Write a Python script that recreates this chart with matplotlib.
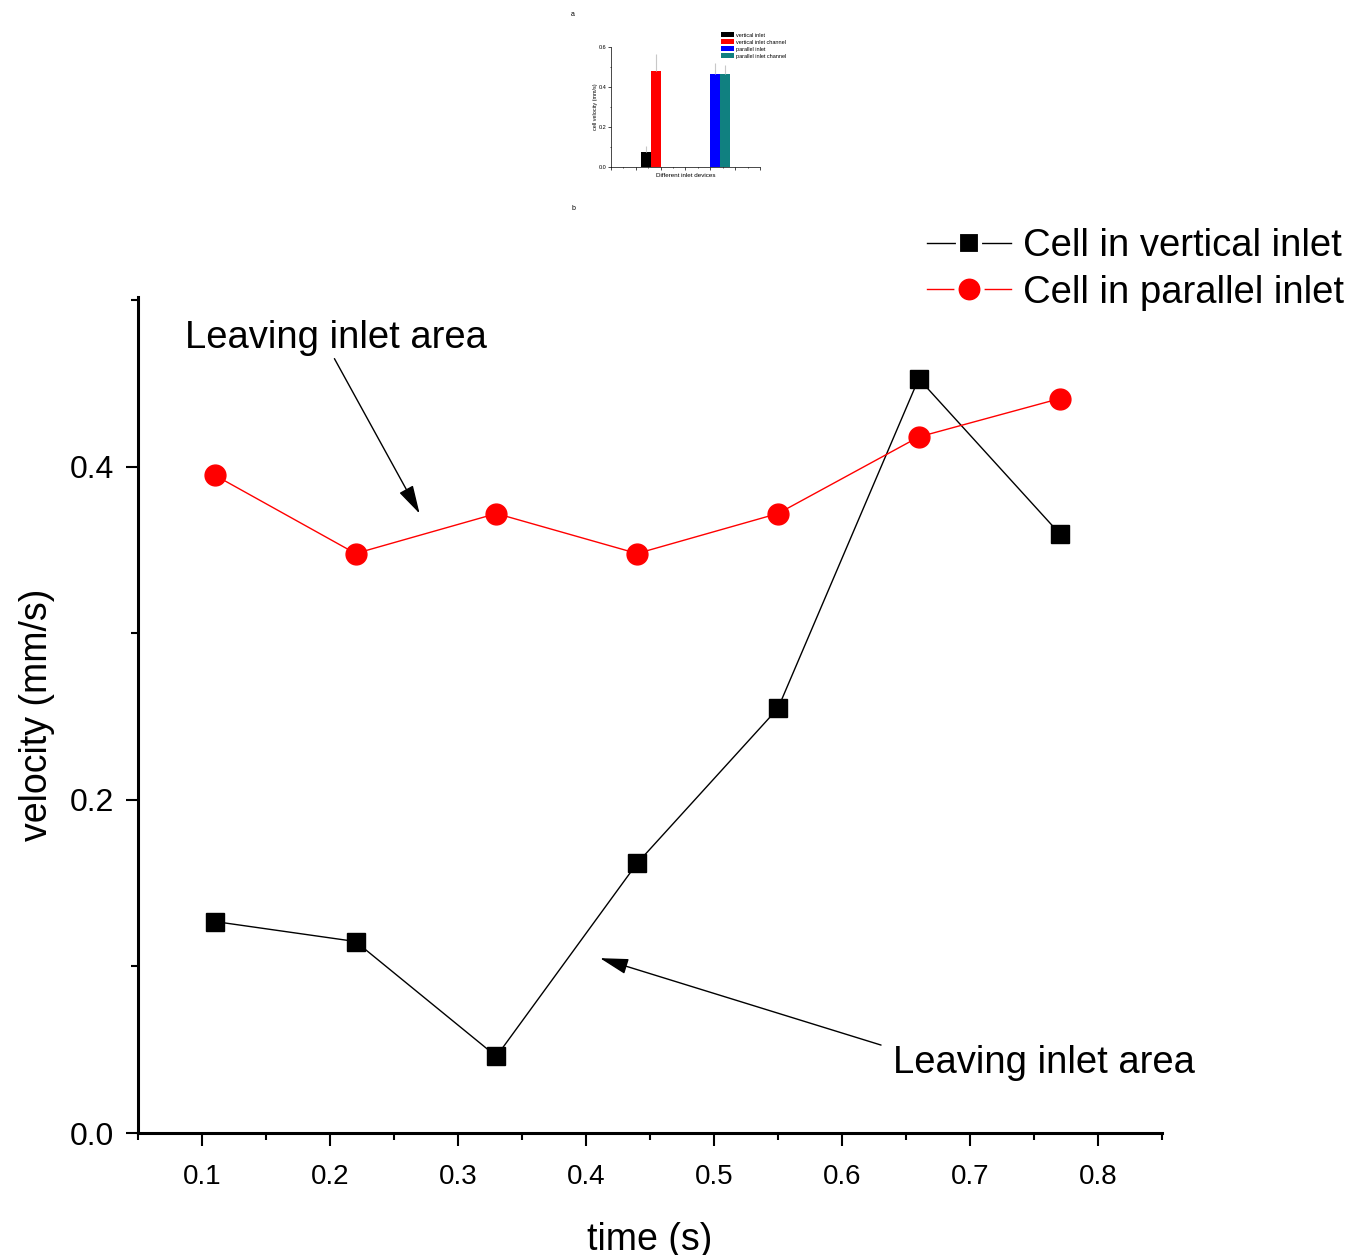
import numpy as np
import matplotlib.pyplot as plt
from matplotlib.ticker import MultipleLocator, NullFormatter

# main chart data
time_s = [0.11, 0.22, 0.33, 0.44, 0.55, 0.66, 0.77]
vel_vertical = [0.127, 0.115, 0.046, 0.162, 0.255, 0.453, 0.360]
vel_parallel = [0.395, 0.348, 0.372, 0.348, 0.372, 0.418, 0.441]

# inset bar chart data
bar_labels = ['vertical inlet', 'vertical inlet channel', 'parallel inlet', 'parallel inlet channel']
bar_pos = [1.41, 1.81, 4.19, 4.59]
bar_vals = [0.075, 0.48, 0.465, 0.465]
bar_err = [0.03, 0.085, 0.055, 0.045]
bar_colors = ['black', 'red', 'blue', '#108080']

plt.rcParams['font.family'] = ['Liberation Sans', 'DejaVu Sans']

fig = plt.figure(figsize=(13.49, 12.55), dpi=100)

# ---- main plot
ax = fig.add_axes([0.1023, 0.0972, 0.759, 0.6661])
ax.plot(time_s, vel_vertical, color='black', lw=1, marker='s', ms=13,
        mfc='black', mec='black', label='Cell in vertical inlet')
ax.plot(time_s, vel_parallel, color='red', lw=1, marker='o', ms=15,
        mfc='red', mec='red', label='Cell in parallel inlet')

ax.set_xlim(0.05, 0.85)
ax.set_ylim(0, 0.502)
ax.xaxis.set_major_locator(MultipleLocator(0.1))
ax.xaxis.set_minor_locator(MultipleLocator(0.05))
ax.yaxis.set_major_locator(MultipleLocator(0.2))
ax.yaxis.set_minor_locator(MultipleLocator(0.1))
ax.xaxis.set_major_formatter(plt.FuncFormatter(lambda v, p: f'{v:.1f}'))
ax.yaxis.set_major_formatter(plt.FuncFormatter(lambda v, p: f'{v:.1f}'))
for s in ['top', 'right']:
    ax.spines[s].set_visible(False)
for s in ['left', 'bottom']:
    ax.spines[s].set_linewidth(2.2)
ax.tick_params(which='major', direction='out', length=9, width=1.5, pad=10)
ax.tick_params(which='minor', direction='out', length=5, width=1.5)
ax.tick_params(axis='x', labelsize=20, pad=13)
ax.tick_params(axis='y', labelsize=23, pad=8)
ax.set_xlabel('time (s)', fontsize=27, labelpad=23)
ax.set_ylabel('velocity (mm/s)', fontsize=27, labelpad=11)

arrow = dict(arrowstyle='-|>,head_length=0.8,head_width=0.22', color='black',
             lw=1, mutation_scale=22, shrinkA=0, shrinkB=0)
ax.annotate('Leaving inlet area', xy=(0.270, 0.372), xytext=(0.0867, 0.4775),
            fontsize=27.5, ha='left', va='center', annotation_clip=False,
            arrowprops=dict(arrow, relpos=(0.49, 0.0)))
ax.annotate('Leaving inlet area', xy=(0.411, 0.105), xytext=(0.640, 0.042),
            fontsize=27.5, ha='left', va='center',
            arrowprops=dict(arrow, relpos=(-0.04, 1.0)))

leg = fig.legend(loc='upper right', bbox_to_anchor=(1.0104, 0.8336), frameon=False,
                 fontsize=27.5, handlelength=2.2, handletextpad=0.32,
                 labelspacing=0.28, markerscale=1.25, borderaxespad=0.1)
for h in leg.legend_handles:
    h.set_markeredgecolor('white')
    h.set_markeredgewidth(3)

# ---- inset bar chart
ins = fig.add_axes([0.4529, 0.8669, 0.1105, 0.0956])
ins.bar(bar_pos, bar_vals, width=0.4, color=bar_colors, label=bar_labels,
        yerr=[np.zeros(4), bar_err], ecolor='#c8c8c8', error_kw=dict(lw=0.8))
ins.set_xlim(0, 6)
ins.set_ylim(0, 0.6)
ins.xaxis.set_major_locator(MultipleLocator(1))
ins.xaxis.set_minor_locator(MultipleLocator(0.5))
ins.xaxis.set_major_formatter(NullFormatter())
ins.yaxis.set_major_locator(MultipleLocator(0.2))
ins.yaxis.set_minor_locator(MultipleLocator(0.1))
ins.yaxis.set_major_formatter(plt.FuncFormatter(lambda v, p: f'{v:.1f}'))
for s in ['top', 'right']:
    ins.spines[s].set_visible(False)
for s in ['left', 'bottom']:
    ins.spines[s].set_linewidth(0.5)
ins.tick_params(which='both', direction='out', length=2, width=0.5, labelsize=4, pad=1)
ins.tick_params(which='minor', length=1)
ins.set_xlabel('Different inlet devices', fontsize=4.5, labelpad=1)
ins.set_ylabel('cell velocity (mm/s)', fontsize=4, labelpad=1)
ins.legend(loc='upper left', bbox_to_anchor=(0.72, 1.14), frameon=False,
           fontsize=4, handlelength=2.5, handleheight=0.8, handletextpad=0.3,
           labelspacing=0.35, borderaxespad=0)

fig.text(573 / 1349, 1 - 15 / 1255, 'a', fontsize=5, ha='center', va='center')
fig.text(573 / 1349, 1 - 208 / 1255, 'b', fontsize=5, ha='center', va='center')

fig.savefig('out.png', dpi=100)
